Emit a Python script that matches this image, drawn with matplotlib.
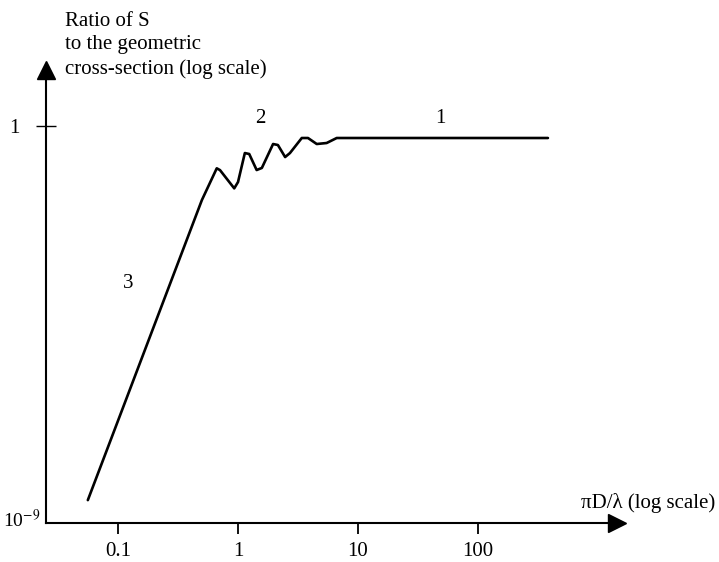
"""Extinction-efficiency sketch: ratio of S to geometric cross-section vs piD/lambda (log-log)."""
import matplotlib
matplotlib.use("Agg")
import matplotlib.pyplot as plt

# curve (x = piD/lambda, y = ratio)
size_param = [0.056, 0.50, 0.665, 0.708, 0.93, 1.0, 1.14, 1.24, 1.43, 1.58,
              1.96, 2.15, 2.47, 2.71, 3.40, 3.83, 4.53, 5.48, 6.65, 383.0]
ratio = [3.3e-9, 0.021, 0.11, 0.10, 0.0386, 0.0537, 0.244, 0.232, 0.1005, 0.112,
         0.391, 0.371, 0.198, 0.244, 0.535, 0.535, 0.391, 0.412, 0.535, 0.535]

x_ticks = [0.1, 1, 10, 100]
x_tick_labels = ["0.1", "1", "10", "100"]
y_ticks = [1]
y_tick_labels = ["1"]
y_bottom_label = "10$^{-9}$"

# regime labels: (text, x, y)
regimes = [("1", 49.0, 1.5), ("2", 1.52, 1.5), ("3", 0.121, 2.75e-4)]

plt.rcParams["font.family"] = ["Liberation Serif", "DejaVu Serif"]
plt.rcParams["mathtext.fontset"] = "stix"

fig = plt.figure(figsize=(7.19, 5.62), dpi=100)
ax = fig.add_axes([0.064, 0.0694, 0.794, 0.806])

ax.plot(size_param, ratio, color="black", lw=1.9, solid_joinstyle="round",
        solid_capstyle="round")
ax.set_xscale("log")
ax.set_yscale("log")
ax.set_xlim(0.0251, 1439)
ax.set_ylim(1e-9, 18.6)

for side in ("top", "right"):
    ax.spines[side].set_visible(False)
for side in ("left", "bottom"):
    ax.spines[side].set_linewidth(1.5)

ax.minorticks_off()
ax.set_xticks(x_ticks)
ax.set_xticklabels(x_tick_labels, fontsize=15)
ax.set_yticks(y_ticks)
ax.set_yticklabels(y_tick_labels, fontsize=15)
ax.tick_params(axis="x", direction="out", length=8, width=1.3, pad=6)
ax.tick_params(axis="y", direction="inout", length=14, width=1.0, pad=12)

# bottom label of the y axis sits just left of the corner
ax.annotate(y_bottom_label, xy=(0, 1e-9), xycoords=("axes fraction", "data"),
            xytext=(-6, 3), textcoords="offset pixels", ha="right", va="center",
            fontsize=14)

# arrow heads on the axes
ax.plot(1, 0, ">", color="black", ms=13, transform=ax.transAxes, clip_on=False)
ax.plot(0, 1, "^", color="black", ms=13, transform=ax.transAxes, clip_on=False)

for txt, xv, yv in regimes:
    ax.text(xv, yv, txt, fontsize=15, ha="center", va="center")

fig.text(65 / 719, 1 - 22 / 562, "Ratio of S", fontsize=15, va="center")
fig.text(65 / 719, 1 - 44 / 562, "to the geometric", fontsize=15, va="center")
fig.text(65 / 719, 1 - 69 / 562, "cross-section (log scale)", fontsize=15,
         va="center")
fig.text(715 / 719, 1 - 503 / 562, "\u03c0D/\u03bb (log scale)", fontsize=15,
         ha="right", va="center")

fig.savefig("out.png", dpi=100)
